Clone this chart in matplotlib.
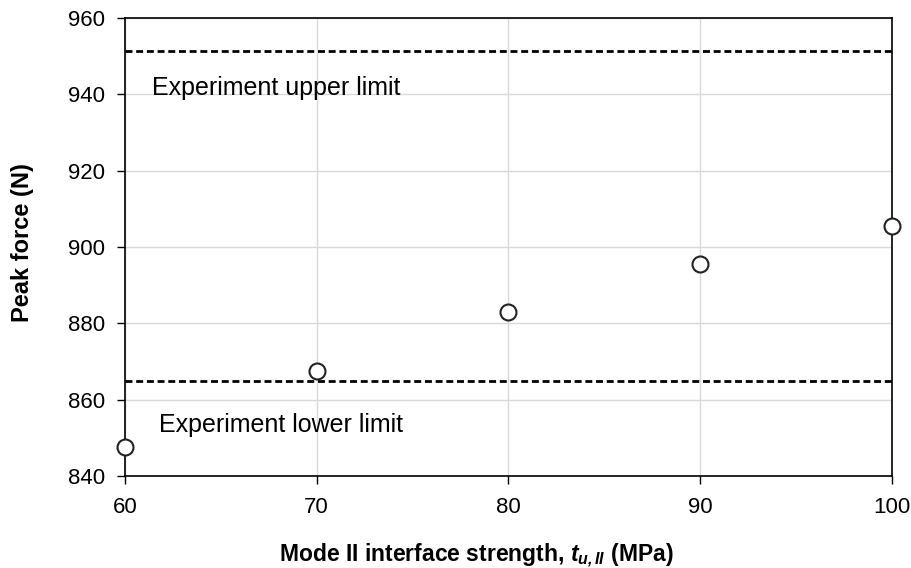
import matplotlib
matplotlib.use('Agg')
import matplotlib.pyplot as plt

plt.rcParams['font.family'] = ['Liberation Sans', 'DejaVu Sans']
plt.rcParams['mathtext.fontset'] = 'custom'
plt.rcParams['mathtext.it'] = 'Liberation Sans:italic'
plt.rcParams['mathtext.bf'] = 'Liberation Sans:bold'
plt.rcParams['mathtext.bfit'] = 'Liberation Sans:bold:italic'
plt.rcParams['mathtext.rm'] = 'Liberation Sans'

# interface strength (MPa) vs simulated peak force (N)
strength = [60, 70, 80, 90, 100]
peak_force = [847.6, 867.6, 883.1, 895.6, 905.4]

# experimental bounds
upper_limit = 951.5
lower_limit = 864.8

fig, ax = plt.subplots(figsize=(9.12, 5.68), dpi=100)
fig.subplots_adjust(left=0.137, right=0.978, top=0.968, bottom=0.162)

dash = (0, (2.5, 1.35))
ax.axhline(upper_limit, color='black', linestyle=dash, linewidth=2)
ax.axhline(lower_limit, color='black', linestyle=dash, linewidth=2)
ax.plot(strength, peak_force, 'o', markersize=11.5, markerfacecolor='white',
        markeredgecolor='#222222', markeredgewidth=1.5, clip_on=False, zorder=5)

ax.text(61.4, 941.8, 'Experiment upper limit', fontsize=18, va='center')
ax.text(61.8, 853.4, 'Experiment lower limit', fontsize=18, va='center')

ax.set_xlim(60, 100)
ax.set_ylim(840, 960)
ax.set_xticks([60, 70, 80, 90, 100])
ax.set_yticks(range(840, 961, 20))
ax.grid(True, color='#d9d9d9', linewidth=1)
ax.set_axisbelow(True)
ax.tick_params(direction='out', length=6, width=1, labelsize=16)
ax.tick_params(axis='y', pad=8)
ax.tick_params(axis='x', pad=9)
for s in ax.spines.values():
    s.set_linewidth(1.2)

ax.set_xlabel(r'Mode II interface strength, $\mathbfit{t}_{\mathbfit{u,II}}$ (MPa)',
              fontsize=16.5, fontweight='bold')
ax.xaxis.set_label_coords(0.458, -0.143)
ax.set_ylabel('Peak force (N)', fontsize=17, fontweight='bold')
ax.yaxis.set_label_coords(-0.118, 0.51)

fig.savefig('out.png', dpi=100)
